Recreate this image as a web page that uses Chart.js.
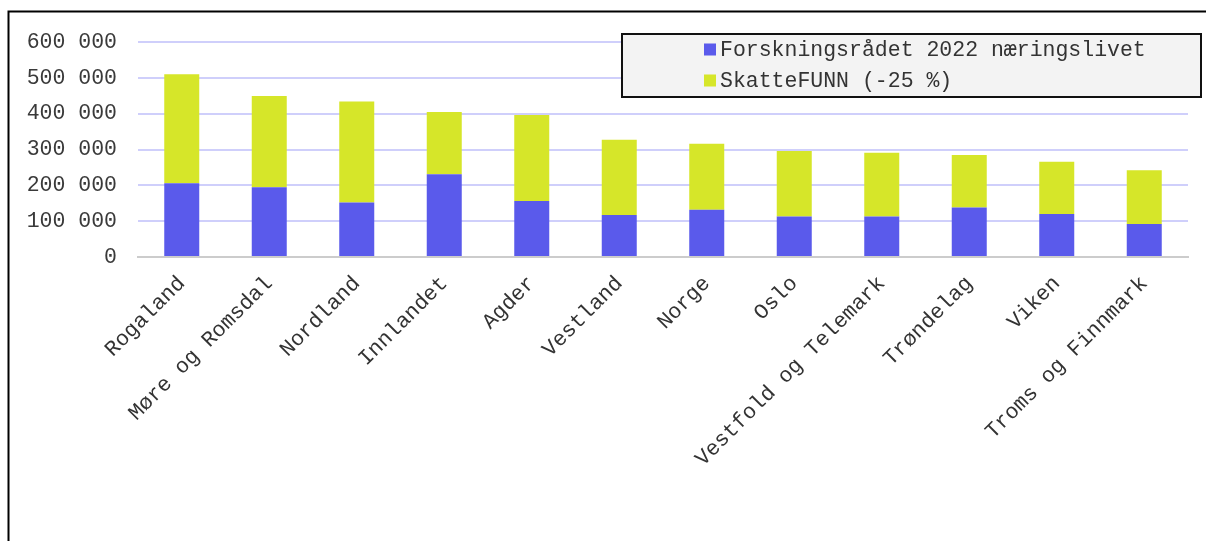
<!DOCTYPE html>
<html>
<head>
<meta charset="utf-8">
<script src="https://cdn.jsdelivr.net/npm/chart.js@4.4.1/dist/chart.umd.min.js"></script>
<style>
  html, body { margin: 0; padding: 0; background: #fff; }
  #wrap { position: relative; width: 1206px; height: 541px; }
  canvas { display: block; }
</style>
</head>
<body>
<div id="wrap"><canvas id="c" width="1206" height="541"></canvas></div>
<script>
const categories = ["Rogaland", "Møre og Romsdal", "Nordland", "Innlandet", "Agder", "Vestland", "Norge", "Oslo", "Vestfold og Telemark", "Trøndelag", "Viken", "Troms og Finnmark"];
const forskningsradet = [206000, 195000, 152000, 231000, 156000, 117000, 132000, 113000, 113000, 138000, 120000, 92000];
const skattefunn = [304000, 254000, 282000, 174000, 240000, 210000, 184000, 183000, 178000, 147000, 146000, 150000];
const seriesLabels = ["Forskningsrådet 2022 næringslivet", "SkatteFUNN (-25 %)"];
const yTicks = [0, 100000, 200000, 300000, 400000, 500000, 600000];

const FONT = "'Liberation Mono', 'DejaVu Sans Mono', monospace";
const BLUE = "#5a5aeb";
const YELLOW = "#d6e629";

function fmt(v) {
  return String(v).replace(/\B(?=(\d{3})+(?!\d))/g, " ");
}

const framePlugin = {
  id: "frame",
  beforeDraw(chart) {
    const ctx = chart.ctx;
    ctx.save();
    ctx.fillStyle = "#fff";
    ctx.fillRect(0, 0, chart.width, chart.height);
    ctx.strokeStyle = "#000";
    ctx.lineWidth = 2;
    ctx.beginPath();
    ctx.moveTo(8.5, chart.height + 5);
    ctx.lineTo(8.5, 11.5);
    ctx.lineTo(chart.width + 5, 11.5);
    ctx.stroke();
    ctx.restore();
  }
};

const legendPlugin = {
  id: "boxLegend",
  afterDraw(chart) {
    const ctx = chart.ctx;
    ctx.save();
    const x0 = 622, y0 = 34, w = 579, h = 63;
    ctx.fillStyle = "#f3f3f3";
    ctx.fillRect(x0, y0, w, h);
    ctx.strokeStyle = "#111";
    ctx.lineWidth = 2;
    ctx.strokeRect(x0, y0, w, h);
    ctx.font = "21.5px " + FONT;
    ctx.textBaseline = "middle";
    ctx.textAlign = "left";
    const rows = [49.5, 80.5];
    chart.data.datasets.forEach((ds, i) => {
      ctx.fillStyle = ds.backgroundColor;
      ctx.fillRect(704, rows[i] - 6, 12, 12);
      ctx.fillStyle = "#333";
      ctx.fillText(ds.label, 720, rows[i] + 1);
    });
    ctx.restore();
  }
};

new Chart(document.getElementById("c"), {
  type: "bar",
  data: {
    labels: categories,
    datasets: [
      { label: seriesLabels[0], data: forskningsradet, backgroundColor: BLUE, borderWidth: 0 },
      { label: seriesLabels[1], data: skattefunn, backgroundColor: YELLOW, borderWidth: 0 }
    ]
  },
  options: {
    responsive: false,
    animation: false,
    devicePixelRatio: 1,
    categoryPercentage: 0.8,
    barPercentage: 0.5,
    layout: { padding: { top: 42, right: 18, left: 10, bottom: 0 } },
    plugins: {
      legend: { display: false },
      tooltip: { enabled: false }
    },
    scales: {
      x: {
        stacked: true,
        grid: { display: false, drawTicks: false },
        border: { display: true, color: "#cccccc", width: 2 },
        ticks: {
          color: "#333",
          font: { family: FONT, size: 21.5 },
          minRotation: 45,
          maxRotation: 45,
          padding: 14,
          autoSkip: false
        },
        afterFit(scale) { scale.height = 541 - 257; }
      },
      y: {
        stacked: true,
        min: 0,
        max: 600000,
        afterBuildTicks(scale) { scale.ticks = yTicks.map(v => ({ value: v })); },
        grid: { color: "#cfcffb", lineWidth: 2, drawTicks: false },
        border: { display: false },
        ticks: {
          color: "#3a3a3a",
          font: { family: FONT, size: 21.5 },
          padding: 21,
          callback: (v) => fmt(v)
        },
        afterFit(scale) { scale.width = 138 - 10; }
      }
    }
  },
  plugins: [framePlugin, legendPlugin]
});
</script>
</body>
</html>
